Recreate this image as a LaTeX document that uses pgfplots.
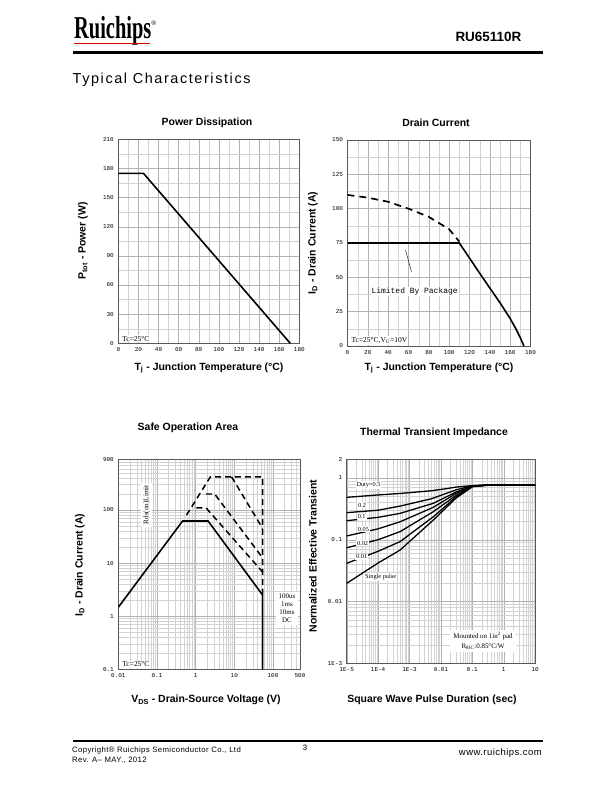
\documentclass[border=0pt]{standalone}
\usepackage{fontspec}
\setmainfont{Liberation Serif}
\newfontfamily\sans{Liberation Sans}
\newfontfamily\mono{Liberation Mono}
\newfontfamily\serif{Liberation Serif}
\newfontfamily\spaced[LetterSpace=11]{Liberation Sans}
\newfontfamily\footfont[LetterSpace=5]{Liberation Sans}
\usepackage{graphicx}
\usepackage{pgfplots}
\pgfplotsset{compat=1.18}
\pgfplotsset{
  ds/.style={scale only axis, anchor=north west,
    axis line style={gray!70!black, line width=0.5pt},
    grid=both,
    major grid style={gray!60, line width=0.35pt},
    minor grid style={gray!35, line width=0.3pt},
    major tick length=0pt, minor tick length=0pt,
    tick label style={font=\mono\fontsize{6}{7}\selectfont, text=black},
    xticklabel style={yshift=-1pt},
    yticklabel style={xshift=-1pt},
  },
}
\tikzset{lab/.style={font=\sans\bfseries\fontsize{10.5}{12}\selectfont, inner sep=0pt}}
\begin{document}
\begin{tikzpicture}
\useasboundingbox[fill=white] (0,0) rectangle (612bp,-792bp);
% ---------- header ----------
\node[anchor=base west, inner sep=0pt] at (74bp,-38.5bp) {\scalebox{0.64}[1]{\serif\bfseries\fontsize{32}{32}\selectfont Ruichips}};
\draw[red!85!black, line width=1.3bp] (74bp,-43.6bp) -- (150bp,-43.6bp);
\node[anchor=base west, inner sep=0pt, font=\serif\fontsize{7}{8}\selectfont] at (151bp,-25bp) {®};
\node[anchor=base east, inner sep=0pt, font=\sans\bfseries\fontsize{13.5}{15}\selectfont] at (521.5bp,-41.5bp) {RU65110R};
\draw[black, line width=2.6bp] (73bp,-52.3bp) -- (543bp,-52.3bp);
\node[anchor=base west, inner sep=0pt, font=\spaced\fontsize{14.5}{16}\selectfont] at (72.5bp,-83.5bp) {Typical Characteristics};
% ---------- footer ----------
\draw[black, line width=2bp] (73bp,-741bp) -- (543bp,-741bp);
\node[anchor=base west, inner sep=0pt, font=\footfont\fontsize{7.8}{8}\selectfont] at (72bp,-752bp) {Copyright® Ruichips Semiconductor Co., Ltd};
\node[anchor=base west, inner sep=0pt, font=\footfont\fontsize{7.8}{8}\selectfont] at (72bp,-762bp) {Rev. A– MAY., 2012};
\node[anchor=base, inner sep=0pt, font=\footfont\fontsize{7.8}{8}\selectfont] at (305bp,-750bp) {3};
\node[anchor=base east, inner sep=0pt, font=\footfont\fontsize{9.5}{10}\selectfont] at (542bp,-755.5bp) {www.ruichips.com};

% ---------- Chart 1: Power Dissipation ----------
\node[lab] at (207bp,-123bp) {Power Dissipation};
\node[lab, rotate=90] at (83bp,-241bp) {P\textsubscript{tot} - Power (W)};
\node[lab] at (209bp,-368bp) {T\textsubscript{j} - Junction Temperature (°C)};
\begin{axis}[ds, at={(118.3bp,-139.3bp)}, width=181bp, height=204bp,
  xmin=0, xmax=180, ymin=0, ymax=210,
  xtick={0,20,40,60,80,100,120,140,160,180},
  xticklabels={0,20,40,60,80,100,120,140,160,180},
  ytick={0,30,60,90,120,150,180,210},
  yticklabels={0,30,60,90,120,150,180,210},
  minor x tick num=1, minor y tick num=1]
\addplot[black, line width=1.6pt] coordinates {(0,175) (25,175) (171,0)};
\node[fill=white, anchor=south west, inner sep=1.2pt, font=\serif\fontsize{7.5}{8}\selectfont] at (rel axis cs:0.015,0.004) {Tc=25°C};
\end{axis}

% ---------- Chart 2: Drain Current ----------
\node[lab] at (436bp,-123bp) {Drain Current};
\node[lab, rotate=90] at (313bp,-243bp) {I\textsubscript{D} - Drain Current (A)};
\node[lab] at (439bp,-368bp) {T\textsubscript{j} - Junction Temperature (°C)};
\begin{axis}[ds, at={(347.5bp,-140bp)}, width=183bp, height=206bp,
  xmin=0, xmax=180, ymin=0, ymax=150,
  xtick={0,20,40,60,80,100,120,140,160,180},
  xticklabels={0,20,40,60,80,100,120,140,160,180},
  ytick={0,25,50,75,100,125,150},
  yticklabels={0,25,50,75,100,125,150},
  minor x tick num=1, minor y tick num=1]
\addplot[black, line width=1.6pt] coordinates {(0,75) (110,75) (120,64) (130,53) (140,42.2) (150,31.5) (160,20) (166,12) (170,6) (173.5,0)};
\addplot[black, line width=1.7pt, dash pattern=on 7pt off 5pt] coordinates {(0,110) (20,108) (40,105) (60,100) (80,94) (100,85) (110,76)};
\draw[black, line width=0.4pt] (axis cs:57,70) -- (axis cs:63,54);
\node[font=\mono\fontsize{8}{9}\selectfont, fill=white, inner sep=1pt] at (axis cs:66,39.5) {Limited By Package};
\node[fill=white, anchor=south west, inner sep=1.2pt, font=\serif\fontsize{7.5}{8}\selectfont] at (rel axis cs:0.015,0.004) {Tc=25°C,V\textsubscript{G}=10V};
\end{axis}

% ---------- Chart 3: Safe Operation Area ----------
\node[lab] at (188bp,-428bp) {Safe Operation Area};
\node[lab, rotate=90] at (80bp,-565bp) {I\textsubscript{D} - Drain Current (A)};
\node[lab] at (206bp,-700bp) {V\textsubscript{DS} - Drain-Source Voltage (V)};
\begin{axis}[ds, at={(118.3bp,-459.3bp)}, width=181.7bp, height=210bp,
  xmode=log, ymode=log,
  xmin=0.01, xmax=500, ymin=0.1, ymax=900,
  xtick={0.01,0.1,1,10,100,500},
  xticklabels={0.01,0.1,1,10,100,500},
  ytick={0.1,1,10,100,900},
  yticklabels={0.1,1,10,100,900},
  minor xtick={0.02,0.03,0.04,0.05,0.06,0.07,0.08,0.09,0.2,0.3,0.4,0.5,0.6,0.7,0.8,0.9,2,3,4,5,6,7,8,9,20,30,40,50,60,70,80,90,200,300,400},
  minor ytick={0.2,0.3,0.4,0.5,0.6,0.7,0.8,0.9,2,3,4,5,6,7,8,9,20,30,40,50,60,70,80,90,200,300,400,500,600,700,800}]
\addplot[black, line width=1.6pt] coordinates {(0.01,1.47) (0.46,62) (2.1,62) (54,2.5) (54,0.1)};
\addplot[black, line width=1.5pt, dash pattern=on 6pt off 4pt] coordinates {(0.58,80) (2.4,420) (54,420) (54,2.5)};
\addplot[black, line width=1.5pt, dash pattern=on 6pt off 4pt] coordinates {(8.5,420) (54,45)};
\addplot[black, line width=1.5pt, dash pattern=on 6pt off 4pt] coordinates {(1.85,200) (3.1,200) (54,12.5)};
\addplot[black, line width=1.5pt, dash pattern=on 6pt off 4pt] coordinates {(1.05,110) (1.85,110) (54,6.8)};
\node[fill=white, rotate=90, inner sep=2.5pt, font=\serif\fontsize{7.2}{8}\selectfont] at (axis cs:0.054,125) {Rds(on)Limit};
\node[fill=white, align=center, inner sep=2.5pt, font=\serif\fontsize{7}{8}\selectfont] at (axis cs:230,1.4) {100us\\1ms\\10ms\\DC};
\node[fill=white, anchor=south west, inner sep=1.2pt, font=\serif\fontsize{7.5}{8}\selectfont] at (rel axis cs:0.015,0.004) {Tc=25°C};
\end{axis}

% ---------- Chart 4: Thermal Transient Impedance ----------
\node[lab] at (434bp,-433bp) {Thermal Transient Impedance};
\node[lab, rotate=90] at (313bp,-556bp) {Normalized Effective Transient};
\node[lab] at (432bp,-700bp) {Square Wave Pulse Duration (sec)};
\begin{axis}[ds, at={(346.7bp,-459.3bp)}, width=188.5bp, height=204bp,
  xmode=log, ymode=log,
  xmin=1e-5, xmax=10, ymin=1e-3, ymax=2,
  xtick={1e-5,1e-4,1e-3,0.01,0.1,1,10},
  xticklabels={1E-5,1E-4,1E-3,0.01,0.1,1,10},
  ytick={1e-3,0.01,0.1,1,2},
  yticklabels={1E-3,0.01,0.1,1,2},
  minor xtick={2e-5,3e-5,4e-5,5e-5,6e-5,7e-5,8e-5,9e-5,2e-4,3e-4,4e-4,5e-4,6e-4,7e-4,8e-4,9e-4,2e-3,3e-3,4e-3,5e-3,6e-3,7e-3,8e-3,9e-3,0.02,0.03,0.04,0.05,0.06,0.07,0.08,0.09,0.2,0.3,0.4,0.5,0.6,0.7,0.8,0.9,2,3,4,5,6,7,8,9},
  minor ytick={2e-3,3e-3,4e-3,5e-3,6e-3,7e-3,8e-3,9e-3,0.02,0.03,0.04,0.05,0.06,0.07,0.08,0.09,0.2,0.3,0.4,0.5,0.6,0.7,0.8,0.9}]
\addplot[black, line width=1.3pt] coordinates {(1e-5,0.485) (1e-4,0.53) (5e-4,0.56) (5e-3,0.62) (0.015,0.67) (0.03,0.71) (0.1,0.75) (0.3,0.765) (1,0.77) (10,0.765)};
\addplot[black, line width=1.3pt] coordinates {(1e-5,0.274) (1e-4,0.30) (5e-4,0.35) (5e-3,0.46) (0.03,0.64) (0.1,0.745) (0.3,0.765) (1,0.77) (10,0.765)};
\addplot[black, line width=1.3pt] coordinates {(1e-5,0.203) (1e-4,0.23) (5e-4,0.267) (5.7e-3,0.388) (0.03,0.59) (0.1,0.74) (0.3,0.765) (1,0.77) (10,0.765)};
\addplot[black, line width=1.3pt] coordinates {(1e-5,0.115) (1e-4,0.15) (5e-4,0.195) (5.7e-3,0.334) (0.03,0.56) (0.1,0.735) (0.3,0.765) (1,0.77) (10,0.765)};
\addplot[black, line width=1.3pt] coordinates {(1e-5,0.074) (1e-4,0.10) (5e-4,0.135) (5.7e-3,0.284) (0.03,0.52) (0.1,0.73) (0.3,0.765) (1,0.77) (10,0.765)};
\addplot[black, line width=1.3pt] coordinates {(1e-5,0.0415) (1e-4,0.065) (5e-4,0.093) (5.7e-3,0.235) (0.03,0.49) (0.1,0.725) (0.3,0.765) (1,0.77) (10,0.765)};
\addplot[black, line width=1.3pt] coordinates {(1e-5,0.0197) (1e-4,0.042) (5e-4,0.068) (5.7e-3,0.208) (0.03,0.47) (0.1,0.72) (0.3,0.76) (1,0.77) (10,0.765)};
\tikzset{dl/.style={fill=white, inner sep=1pt, font=\serif\fontsize{6.3}{7}\selectfont}}
\node[dl] at (axis cs:4.94e-5,0.767) {Duty=0.5};
\node[dl] at (axis cs:3.1e-5,0.365) {0.2};
\node[dl] at (axis cs:3.0e-5,0.236) {0.1};
\node[dl] at (axis cs:3.4e-5,0.147) {0.05};
\node[dl] at (axis cs:3.2e-5,0.0875) {0.02};
\node[dl] at (axis cs:3.0e-5,0.053) {0.01};
\node[dl] at (axis cs:1.2e-4,0.0247) {Single pulse};
\node[fill=white, align=center, inner sep=3pt, font=\serif\fontsize{7}{9.5}\selectfont] at (axis cs:0.218,0.0023) {Mounted on 1in\textsuperscript{2} pad\\R\textsubscript{θJC}:0.85°C/W};
\end{axis}
\end{tikzpicture}
\end{document}
